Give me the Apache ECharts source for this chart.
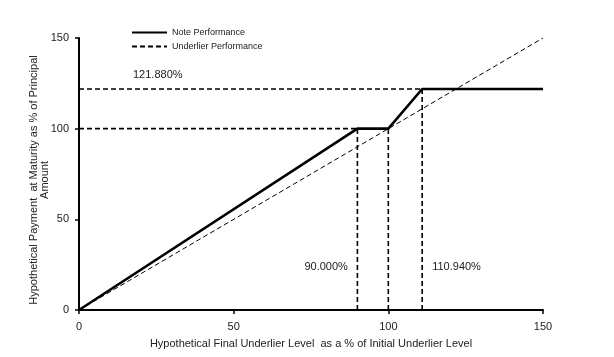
<!DOCTYPE html>
<html><head><meta charset="utf-8">
<script src="https://cdn.jsdelivr.net/npm/echarts@6/dist/echarts.min.js"></script>
<style>html,body{margin:0;padding:0;background:#fff}#c{width:614px;height:357px}</style>
</head><body><div id="c"></div>
<script>
const xTicks = [0, 50, 100, 150];
const yTicks = [0, 50, 100, 150];
const noteX = [0, 90, 100, 110.94, 150];
const noteY = [0, 100, 100, 121.88, 121.88];
const underX = [0, 150];
const underY = [0, 150];
const capLevel = 121.88;
const floorLevel = 100;
const kinkX = [90, 100, 110.94];
const annotations = ['121.880%', '90.000%', '110.940%'];
const yTitle = 'Hypothetical Payment  at Maturity as % of Principal\nAmount';
const xTitle = 'Hypothetical Final Underlier Level  as a % of Initial Underlier Level';

const chart = echarts.init(document.getElementById('c'));
const F = 'Liberation Sans, Arial, sans-serif';
const dash = {color:'#000', width:1.6, type:[5,3]};
function seg(name, pts){ return {name, type:'line', data:pts, symbol:'none', lineStyle:dash, silent:true, z:1}; }
const series = [
  {name:'Note Performance', type:'line', data:noteX.map((x,i)=>[x,noteY[i]]), symbol:'none', lineStyle:{color:'#000', width:2.6}, itemStyle:{color:'#000'}, z:3},
  {name:'Underlier Performance', type:'line', data:underX.map((x,i)=>[x,underY[i]]), symbol:'none', lineStyle:{color:'#000', width:1, type:[5,3]}, itemStyle:{color:'#000'}, z:2},
  seg('cap', [[0,capLevel],[kinkX[2],capLevel]]),
  seg('floor', [[0,floorLevel],[kinkX[0],floorLevel]]),
  seg('v1', [[kinkX[0],0],[kinkX[0],floorLevel]]),
  seg('v2', [[kinkX[1],0],[kinkX[1],floorLevel]]),
  seg('v3', [[kinkX[2],0],[kinkX[2],capLevel]])
];
const axisCommon = {
  min:0, max:150, interval:50,
  axisLine:{show:true, lineStyle:{color:'#000', width:2}},
  axisTick:{show:true, length:4, lineStyle:{color:'#000', width:1.5}},
  splitLine:{show:false},
  axisLabel:{color:'#222', fontFamily:F, fontSize:11},
  nameTextStyle:{color:'#222', fontFamily:F, fontSize:11}
};
chart.setOption({
  animation:false,
  backgroundColor:'#fff',
  grid:{left:79, right:71, top:38, bottom:47},
  legend:{
    data:['Note Performance','Underlier Performance'],
    orient:'vertical', left:126, top:23, itemWidth:35, itemHeight:9, itemGap:5,
    itemStyle:{opacity:0},
    textStyle:{fontFamily:F, fontSize:9, color:'#222'}
  },
  xAxis:Object.assign({}, axisCommon, {type:'value', name:xTitle, nameLocation:'middle', nameGap:28, axisLabel:Object.assign({}, axisCommon.axisLabel, {margin:11})}),
  yAxis:Object.assign({}, axisCommon, {type:'value', axisLabel:Object.assign({}, axisCommon.axisLabel, {margin:10})}),
  series
});
const pCap = chart.convertToPixel({gridIndex:0}, [0, capLevel]);
const p1 = chart.convertToPixel({gridIndex:0}, [kinkX[0], 15]);
const p3 = chart.convertToPixel({gridIndex:0}, [kinkX[2], 15]);
const pMid = chart.convertToPixel({gridIndex:0}, [0, 75]);
chart.setOption({graphic:[
  {type:'text', left:pCap[0]+54, top:pCap[1]-20, style:{text:annotations[0], font:'11px '+F, fill:'#222'}},
  {type:'text', left:p1[0]-53, top:p1[1]-21, style:{text:annotations[1], font:'11px '+F, fill:'#222'}},
  {type:'text', left:p3[0]+10, top:p3[1]-21, style:{text:annotations[2], font:'11px '+F, fill:'#222'}},
  {type:'text', x:pMid[0]-40, y:pMid[1]+6, rotation:Math.PI/2,
   style:{text:yTitle, font:'11px '+F, fill:'#222', align:'center', verticalAlign:'middle', lineHeight:11}}
]});
</script></body></html>
